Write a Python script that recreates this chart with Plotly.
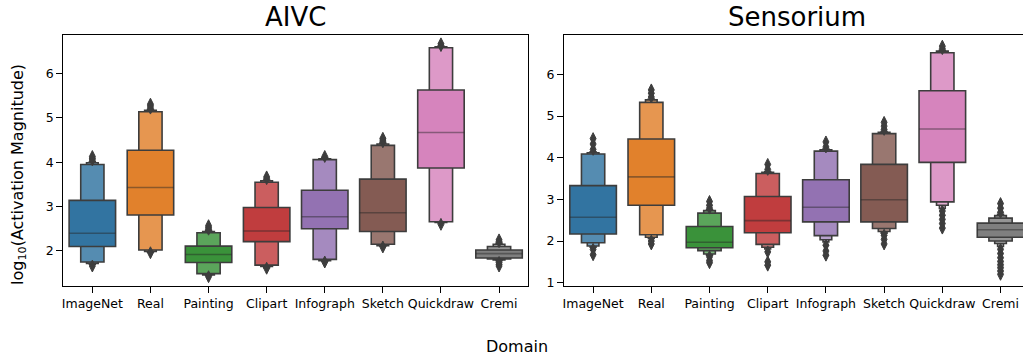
import plotly.graph_objects as go

categories = ["ImageNet", "Real", "Painting", "Clipart", "Infograph", "Sketch", "Quickdraw", "Cremi"]
panel_titles = ["AIVC", "Sensorium"]
yticks_aivc = [2, 3, 4, 5, 6]
yticks_sens = [1, 2, 3, 4, 5, 6]

# Letter values per category: index 0 = quartiles (25/75 %), then 12.5/87.5 %, 6.25/93.75 %, ...
aivc_lower = [
    [2.10, 1.75, 1.72, 1.70],
    [2.81, 2.02, 1.99, 1.97],
    [1.74, 1.49, 1.46, 1.45],
    [2.21, 1.68, 1.65, 1.63],
    [2.50, 1.81, 1.78, 1.77],
    [2.44, 2.15, 2.12, 2.11],
    [3.87, 2.66, 2.64, 2.63],
    [1.84, 1.82, 1.80, 1.78],
]
aivc_upper = [
    [3.14, 3.95, 3.99, 4.01],
    [4.27, 5.14, 5.17, 5.19],
    [2.11, 2.41, 2.44, 2.46],
    [2.98, 3.55, 3.58, 3.60],
    [3.37, 4.06, 4.08, 4.10],
    [3.62, 4.38, 4.41, 4.43],
    [5.63, 6.58, 6.60, 6.61],
    [2.02, 2.10, 2.15, 2.18],
]
aivc_median = [2.40, 3.43, 1.92, 2.45, 2.77, 2.86, 4.67, 1.94]
aivc_outliers = [
    [4.05, 4.09, 4.13, 1.66],
    [5.22, 5.27, 5.31, 1.96],
    [2.49, 2.53, 2.57, 1.42],
    [3.63, 3.67, 1.61],
    [4.13, 1.75],
    [4.46, 4.50, 4.54, 2.09],
    [6.63, 6.67, 2.60],
    [2.21, 2.25, 1.74, 1.70, 1.66],
]

sens_lower = [
    [2.17, 1.96, 1.88, 1.85],
    [2.86, 2.15, 2.09, 2.06],
    [1.84, 1.77, 1.69, 1.66],
    [2.20, 1.92, 1.85, 1.81],
    [2.46, 2.13, 2.03, 1.98],
    [2.46, 2.30, 2.23, 2.19],
    [3.89, 2.94, 2.86, 2.78],
    [2.09, 2.00, 1.94, 1.87],
]
sens_upper = [
    [3.33, 4.09, 4.12, 4.14],
    [4.45, 5.33, 5.39, 5.41],
    [2.35, 2.67, 2.73, 2.75],
    [3.07, 3.62, 3.65, 3.67],
    [3.47, 4.16, 4.19, 4.21],
    [3.84, 4.58, 4.61, 4.63],
    [5.61, 6.52, 6.56, 6.58],
    [2.43, 2.55, 2.61, 2.64],
]
sens_median = [2.57, 3.54, 1.97, 2.49, 2.81, 2.99, 4.69, 2.27]
sens_outliers = [
    [4.20, 4.33, 4.46, 1.80, 1.67],
    [5.46, 5.55, 5.63, 2.00, 1.93],
    [2.79, 2.86, 2.95, 1.62, 1.53, 1.48],
    [3.72, 3.84, 1.74, 1.50, 1.42],
    [4.26, 4.38, 1.90, 1.76, 1.66],
    [4.68, 4.76, 4.85, 2.14, 2.04, 1.93],
    [6.62, 6.68, 2.72, 2.62, 2.52, 2.42, 2.31],
    [2.69, 2.79, 2.90, 1.80, 1.70, 1.60, 1.51, 1.43, 1.36, 1.28, 1.20],
]

base_colors = ["#3274a1", "#e1812c", "#3a923a", "#c03d3e", "#9372b2", "#845b53", "#d684bd", "#7f7f7f"]
EDGE = "#3d3d3d"
N_LEVELS_COLOR = 6


def hex_to_rgb(h):
    h = h.lstrip("#")
    return [int(h[i:i + 2], 16) for i in (0, 2, 4)]


def level_color(hexc, j):
    c = hex_to_rgb(hexc)
    light = [0.15 * v + 0.85 * 255 for v in c]
    f = j / (N_LEVELS_COLOR - 1)
    r = [round(v + f * (l - v)) for v, l in zip(c, light)]
    return "rgb(%d,%d,%d)" % tuple(r)


fig = go.Figure()

panels = [
    ("x", "y", aivc_lower, aivc_upper, aivc_median, aivc_outliers),
    ("x2", "y2", sens_lower, sens_upper, sens_median, sens_outliers),
]

for xa, ya, lowers, uppers, medians, outs in panels:
    nlev = max(len(l) for l in lowers)
    for j in range(nlev - 1, -1, -1):
        xs, bases, hs, cols = [], [], [], []
        for i in range(len(categories)):
            if j < len(lowers[i]):
                xs.append(i)
                bases.append(lowers[i][j])
                hs.append(uppers[i][j] - lowers[i][j])
                cols.append(level_color(base_colors[i], j))
        fig.add_trace(go.Bar(
            x=xs, y=hs, base=bases, width=0.8 * 0.5 ** j,
            marker=dict(color=cols, line=dict(color=EDGE, width=1.6)),
            xaxis=xa, yaxis=ya, showlegend=False, hoverinfo="skip",
        ))
    mx, my = [], []
    for i, m in enumerate(medians):
        mx += [i - 0.4, i + 0.4, None]
        my += [m, m, None]
    fig.add_trace(go.Scatter(
        x=mx, y=my, mode="lines", line=dict(color="rgba(38,38,38,0.45)", width=1.6),
        xaxis=xa, yaxis=ya, showlegend=False, hoverinfo="skip",
    ))
    ox, oy = [], []
    for i, o in enumerate(outs):
        ox += [i] * len(o)
        oy += o
    fig.add_trace(go.Scatter(
        x=ox, y=oy, mode="markers",
        marker=dict(symbol="diamond-tall", size=8.5, color=EDGE, line=dict(color=EDGE, width=1)),
        xaxis=xa, yaxis=ya, showlegend=False, hoverinfo="skip",
    ))

W, H = 1023, 356
left_dom = [63.3 / W, 528.1 / W]
right_dom = [564 / W, 1.0]
ydom = [1 - 286 / H, 1 - 34.5 / H]

font_family = "DejaVu Sans"
axis_common = dict(
    showline=True, mirror=True, linecolor="black", linewidth=1.2,
    ticks="outside", ticklen=6, tickwidth=1.1, tickcolor="black",
    showgrid=False, zeroline=False, automargin=False,
    tickfont=dict(family=font_family, size=12.5, color="black"),
)

fig.update_layout(
    width=W, height=H,
    margin=dict(l=0, r=0, t=0, b=0, autoexpand=False),
    paper_bgcolor="white", plot_bgcolor="white",
    barmode="overlay",
    font=dict(family=font_family, color="black"),
    xaxis=dict(domain=left_dom, range=[-0.5, 7.5], tickvals=list(range(len(categories))),
               ticktext=categories, tickangle=0, anchor="y", **axis_common),
    yaxis=dict(domain=ydom, range=[1.21, 6.88], tickvals=yticks_aivc, anchor="x", **axis_common),
    xaxis2=dict(domain=right_dom, range=[-0.5, 7.386], tickvals=list(range(len(categories))),
                ticktext=categories, tickangle=0, anchor="y2", **axis_common),
    yaxis2=dict(domain=ydom, range=[0.92, 6.96], tickvals=yticks_sens, anchor="x2", **axis_common),
    annotations=[
        dict(text=panel_titles[0], x=(left_dom[0] + left_dom[1]) / 2, y=1 - 17 / H,
             xref="paper", yref="paper", xanchor="center", yanchor="middle",
             showarrow=False, font=dict(size=26, family=font_family, color="black")),
        dict(text=panel_titles[1], x=797 / W, y=1 - 17 / H,
             xref="paper", yref="paper", xanchor="center", yanchor="middle",
             showarrow=False, font=dict(size=26, family=font_family, color="black")),
        dict(text="Domain", x=517 / W, y=1 - 346 / H,
             xref="paper", yref="paper", xanchor="center", yanchor="middle",
             showarrow=False, font=dict(size=16, family=font_family, color="black")),
        dict(text="log<sub>10</sub>(Activation Magnitude)", x=18 / W, y=1 - 175 / H,
             xref="paper", yref="paper", xanchor="center", yanchor="middle", textangle=-90,
             showarrow=False, font=dict(size=16, family=font_family, color="black")),
    ],
)

fig.write_html("out.html", config={"displayModeBar": False},
               post_script="document.body.style.margin='0px';document.body.style.overflow='hidden';")
